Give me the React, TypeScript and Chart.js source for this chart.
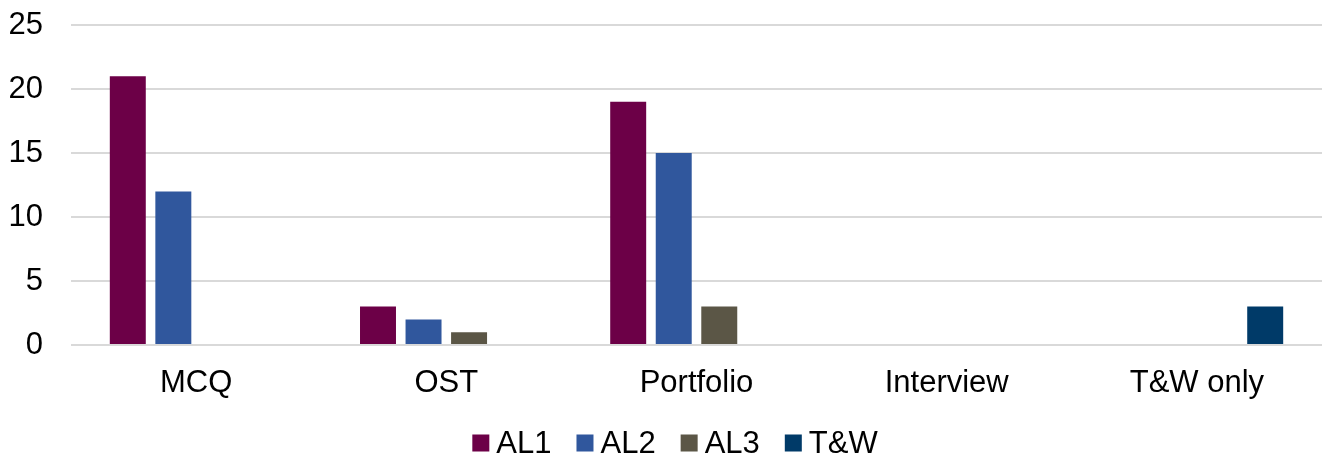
import React, { useEffect, useRef } from "react";
import { Chart, registerables } from "chart.js";

Chart.register(...registerables);

const FONT = '"Liberation Sans", Arial, Helvetica, sans-serif';

// Assessment types along the x axis
const categories = ["MCQ", "OST", "Portfolio", "Interview", "T&W only"];

// Counts per assessment level
const al1 = [21, 3, 19, 0, 0];
const al2 = [12, 2, 15, 0, 0];
const al3 = [0, 1, 3, 0, 0];
const tw = [0, 0, 0, 0, 3];

const seriesNames = ["AL1", "AL2", "AL3", "T&W"];
const seriesColors = ["#6C0047", "#30579D", "#5B5646", "#003A68"];

// Value axis range
const yMin = 0;
const yMax = 25;
const yStep = 5;

// Legend drawn centred under the plot: small square swatch, tight gap, label
const bottomLegend = {
  id: "bottomLegend",
  afterDraw(chart: any) {
    const ctx: CanvasRenderingContext2D = chart.ctx;
    ctx.save();
    ctx.font = `31px ${FONT}`;
    ctx.textBaseline = "middle";
    ctx.textAlign = "left";
    const box = 17;
    const gap = 7;
    const spacing = 25;
    const items = chart.data.datasets.map((ds: any) => ({
      label: ds.label as string,
      color: ds.backgroundColor as string,
      w: ctx.measureText(ds.label).width,
    }));
    const total =
      items.reduce((s: number, it: any) => s + box + gap + it.w, 0) +
      spacing * (items.length - 1);
    const centerX = chart.width / 2 + 13;
    const cy = 443;
    let x = centerX - total / 2;
    for (const it of items) {
      ctx.fillStyle = it.color;
      ctx.fillRect(x, cy - box / 2, box, box);
      ctx.fillStyle = "#000";
      ctx.fillText(it.label, x + box + gap, cy + 1);
      x += box + gap + it.w + spacing;
    }
    ctx.restore();
  },
};

export default function App() {
  const canvasRef = useRef<HTMLCanvasElement | null>(null);

  useEffect(() => {
    if (!canvasRef.current) return;
    const seriesValues = [al1, al2, al3, tw];
    const chart = new Chart(canvasRef.current, {
      type: "bar",
      data: {
        labels: categories,
        datasets: seriesValues.map((vals, i) => ({
          label: seriesNames[i],
          data: vals,
          backgroundColor: seriesColors[i],
          borderWidth: 0,
          barPercentage: 0.79,
          categoryPercentage: 0.728,
        })),
      },
      options: {
        animation: false,
        responsive: false,
        devicePixelRatio: 1,
        layout: { padding: { top: 25, right: 2, left: 0, bottom: 0 } },
        plugins: {
          legend: { display: false },
          tooltip: { enabled: false },
        },
        scales: {
          x: {
            grid: { display: false, drawTicks: false },
            border: { display: false },
            ticks: {
              color: "#000",
              font: { family: FONT, size: 31 },
              padding: 20,
              maxRotation: 0,
              autoSkip: false,
            },
            afterFit(scale: any) {
              scale.height = 112;
            },
          },
          y: {
            min: yMin,
            max: yMax,
            grid: { color: "#D9D9D9", lineWidth: 2, drawTicks: false },
            border: { display: false },
            ticks: {
              stepSize: yStep,
              color: "#000",
              font: { family: FONT, size: 31 },
              padding: 28,
            },
            afterFit(scale: any) {
              scale.width = 71;
              scale.paddingTop = 0;
              scale.paddingBottom = 0;
            },
          },
        },
      },
      plugins: [bottomLegend],
    });
    return () => chart.destroy();
  }, []);

  return (
    <div
      style={{
        position: "absolute",
        left: 0,
        top: 0,
        width: 1324,
        height: 457,
        background: "#fff",
      }}
    >
      <canvas ref={canvasRef} width={1324} height={457} />
    </div>
  );
}
